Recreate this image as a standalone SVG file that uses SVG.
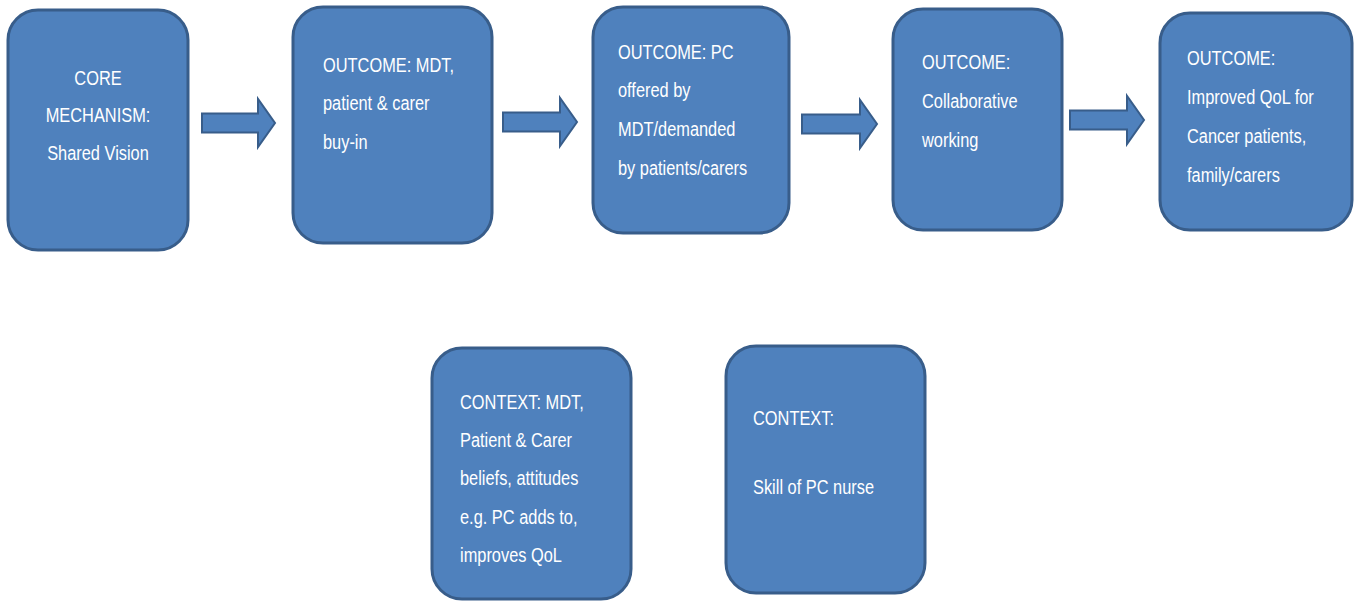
<svg xmlns="http://www.w3.org/2000/svg" width="1357" height="603" viewBox="0 0 1357 603">
<style>
.box{fill:#4f81bd;stroke:#385d8a;stroke-width:3}
.arr{fill:#4f81bd;stroke:#385d8a;stroke-width:2;stroke-linejoin:miter}
.t{font-family:"Liberation Sans",Arial,sans-serif;font-size:21px;fill:#ffffff}
.c{text-anchor:middle}
</style>
<rect width="1357" height="603" fill="#ffffff"/>
<g id="connectors">
<path class="arr" d="M202,113.5 H258 V99 L275,123 L258,147 V132.5 H202 Z"/>
<path class="arr" d="M503,112.5 H560 V98 L577,122 L560,146 V131.5 H503 Z"/>
<path class="arr" d="M802,114.5 H860 V100 L877,124 L860,148 V133.5 H802 Z"/>
<path class="arr" d="M1070,110.5 H1127 V96 L1144,120 L1127,144 V129.5 H1070 Z"/>
</g>
<g id="core">
<rect class="box" x="8" y="10" width="180" height="240" rx="30"/>
<text class="t c" transform="translate(98,0) scale(0.78,1)"><tspan x="0" y="85">CORE</tspan><tspan x="0" y="122">MECHANISM:</tspan><tspan x="0" y="160">Shared Vision</tspan></text>
</g>
<g id="outcome1">
<rect class="box" x="293" y="7" width="199" height="236" rx="30"/>
<text class="t" transform="translate(323,0) scale(0.78,1)"><tspan x="0" y="72">OUTCOME: MDT,</tspan><tspan x="0" y="110">patient &amp; carer</tspan><tspan x="0" y="149">buy-in</tspan></text>
</g>
<g id="outcome2">
<rect class="box" x="593" y="7" width="196" height="226" rx="30"/>
<text class="t" transform="translate(618,0) scale(0.78,1)"><tspan x="0" y="59">OUTCOME: PC</tspan><tspan x="0" y="97">offered by</tspan><tspan x="0" y="136">MDT/demanded</tspan><tspan x="0" y="175">by patients/carers</tspan></text>
</g>
<g id="outcome3">
<rect class="box" x="893" y="9" width="169" height="221" rx="30"/>
<text class="t" transform="translate(922,0) scale(0.78,1)"><tspan x="0" y="69">OUTCOME:</tspan><tspan x="0" y="108">Collaborative</tspan><tspan x="0" y="147">working</tspan></text>
</g>
<g id="outcome4">
<rect class="box" x="1160" y="13" width="192" height="217" rx="30"/>
<text class="t" transform="translate(1187,0) scale(0.78,1)"><tspan x="0" y="65">OUTCOME:</tspan><tspan x="0" y="104">Improved QoL for</tspan><tspan x="0" y="143">Cancer patients,</tspan><tspan x="0" y="182">family/carers</tspan></text>
</g>
<g id="context1">
<rect class="box" x="432" y="348" width="199" height="251" rx="30"/>
<text class="t" transform="translate(460,0) scale(0.78,1)"><tspan x="0" y="409">CONTEXT: MDT,</tspan><tspan x="0" y="447">Patient &amp; Carer</tspan><tspan x="0" y="485">beliefs, attitudes</tspan><tspan x="0" y="524">e.g. PC adds to,</tspan><tspan x="0" y="562">improves QoL</tspan></text>
</g>
<g id="context2">
<rect class="box" x="726" y="346" width="199" height="247" rx="30"/>
<text class="t" transform="translate(753,0) scale(0.78,1)"><tspan x="0" y="425">CONTEXT:</tspan><tspan x="0" y="494">Skill of PC nurse</tspan></text>
</g>
</svg>
